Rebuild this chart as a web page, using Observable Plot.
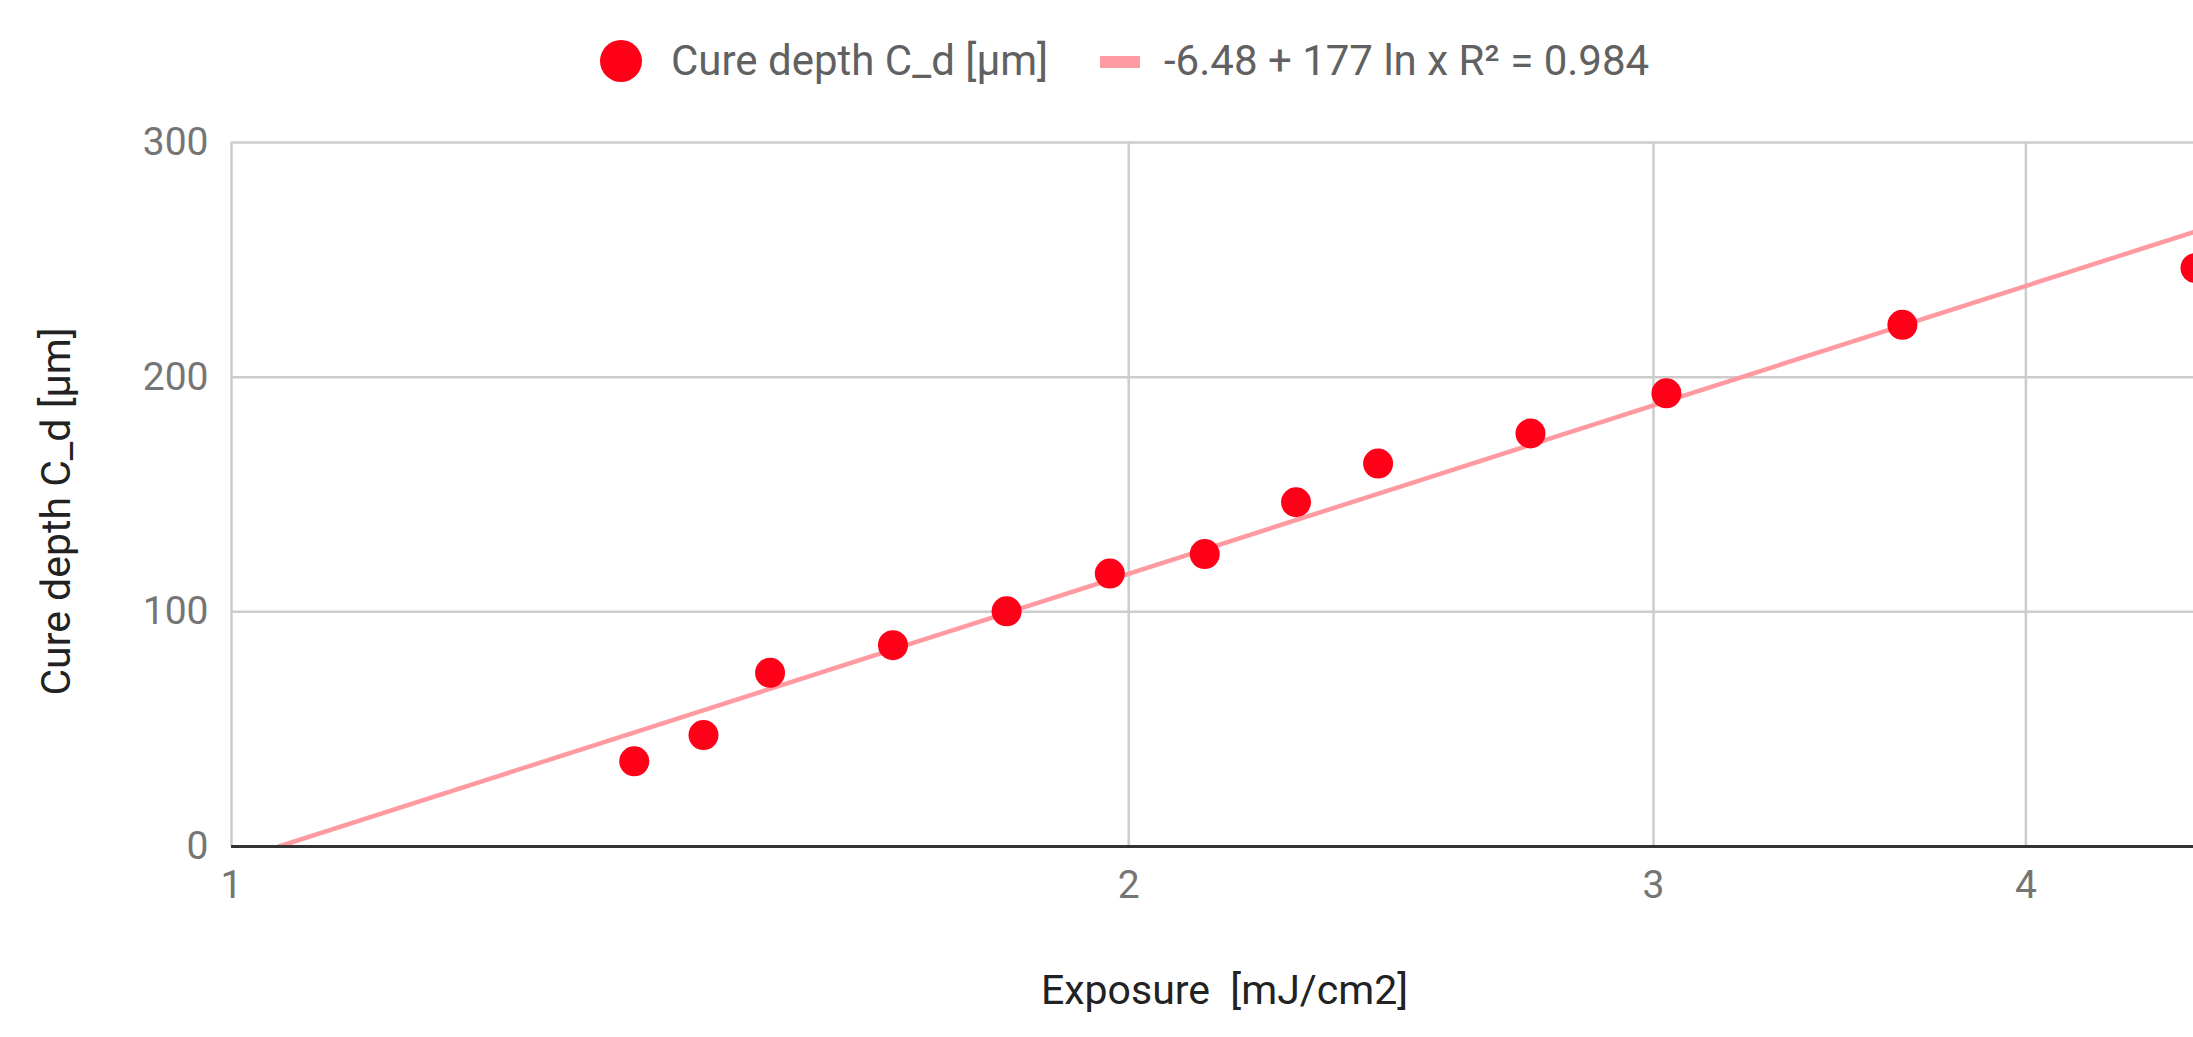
<!DOCTYPE html>
<html>
<head>
<meta charset="utf-8">
<script src="https://cdn.jsdelivr.net/npm/d3@7"></script>
<script src="https://cdn.jsdelivr.net/npm/@observablehq/plot@0.6"></script>
<style>
  html, body { margin: 0; padding: 0; background: #fff; overflow: hidden; width: 2193px; height: 1037px; }
  #legend { position: relative; height: 100px; width: 2193px; font-family: Roboto, sans-serif; font-size: 42px; color: #616161; }
  #legend .dot { position: absolute; left: 600px; top: 40px; width: 42px; height: 42px; border-radius: 50%; background: #ff0019; }
  #legend .t1 { position: absolute; left: 671px; top: 37px; line-height: 48px; white-space: nowrap; }
  #legend .sw { position: absolute; left: 1100px; top: 56px; width: 40px; height: 12px; background: #ff9aa0; }
  #legend .t2 { position: absolute; left: 1164px; top: 37px; line-height: 48px; white-space: nowrap; }
  #chart svg { display: block; }
</style>
</head>
<body>
<div id="legend"></div>
<div id="chart"></div>
<script>
// Data
const exposure = [1.365, 1.44, 1.516, 1.667, 1.82, 1.971, 2.121, 2.276, 2.425, 2.728, 3.03, 3.636, 4.56];
const cureDepth = [36.3, 47.5, 74, 85.8, 100.2, 116.3, 124.6, 146.7, 163.2, 176, 193.1, 222.3, 246.5];
const seriesName = "Cure depth C_d [μm]";
const trendIntercept = -6.48;
const trendSlope = 177;
const trendLabel = "-6.48 + 177 ln x R² = 0.984";
const xTicks = [1, 2, 3, 4];
const yTicks = [0, 100, 200, 300];
const xDomain = [1, 4.553];
const yDomain = [0, 300];
const xTitle = "Exposure\u00a0\u00a0[mJ/cm2]";
const yTitle = "Cure depth C_d [μm]";

const points = exposure.map((x, i) => ({x, y: cureDepth[i]}));
const trendStartX = Math.exp(-trendIntercept / trendSlope);
const trend = [trendStartX, xDomain[1]].map(x => ({x, y: trendIntercept + trendSlope * Math.log(x)}));

const legend = document.getElementById("legend");
legend.innerHTML = `<span class="dot"></span><span class="t1"></span><span class="sw"></span><span class="t2"></span>`;
legend.querySelector(".t1").textContent = seriesName;
legend.querySelector(".t2").textContent = trendLabel;

const W = 2193, H = 937;
const chart = Plot.plot({
  width: W,
  height: H,
  marginLeft: 231,
  marginRight: 0,
  marginTop: 42,
  marginBottom: 191,
  style: {fontFamily: "Roboto, sans-serif", fontSize: "39px", color: "#757575", background: "#fff", overflow: "hidden"},
  x: {type: "log", domain: xDomain},
  y: {domain: yDomain},
  marks: [
    Plot.gridX(xTicks, {stroke: "#cccccc", strokeOpacity: 1, strokeWidth: 2.5}),
    Plot.gridY(yTicks.filter(d => d > 0), {stroke: "#cccccc", strokeOpacity: 1, strokeWidth: 2.5}),
    Plot.axisX(xTicks, {tickSize: 0, tickPadding: 24, tickFormat: d => String(d), fill: "#757575", label: null}),
    Plot.axisY(yTicks, {tickSize: 0, tickPadding: 23, tickFormat: d => String(d), fill: "#757575", label: null}),
    Plot.text([xTitle], {frameAnchor: "bottom", dx: 12, dy: 144, lineAnchor: "middle", textAnchor: "middle", fill: "#222222", fontSize: 41}),
    Plot.text([yTitle], {frameAnchor: "left", dx: -175, dy: 17, rotate: -90, lineAnchor: "middle", textAnchor: "middle", fill: "#222222", fontSize: 41}),
    Plot.line(trend, {x: "x", y: "y", stroke: "#ff9aa0", strokeWidth: 4.5, clip: true}),
    Plot.ruleY([0], {stroke: "#333333", strokeWidth: 3}),
    Plot.dot(points, {x: "x", y: "y", r: 15, fill: "#ff0019", stroke: "none", clip: true})
  ]
});
document.getElementById("chart").appendChild(chart);
</script>
</body>
</html>
